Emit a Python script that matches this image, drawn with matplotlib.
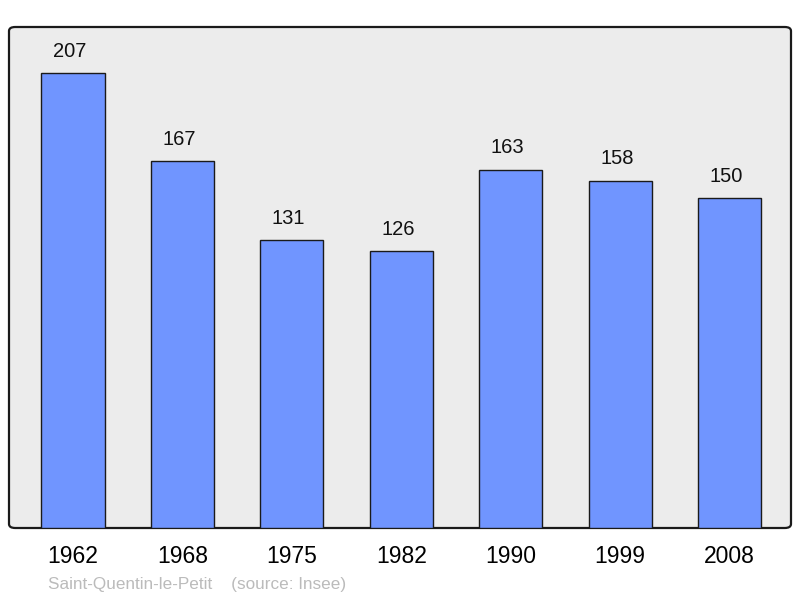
import matplotlib
matplotlib.use("Agg")
import matplotlib.pyplot as plt
from matplotlib.patches import FancyBboxPatch

years = ["1962", "1968", "1975", "1982", "1990", "1999", "2008"]
population = [207, 167, 131, 126, 163, 158, 150]
caption = "Saint-Quentin-le-Petit    (source: Insee)"

plt.rcParams['font.family'] = ['Liberation Sans', 'DejaVu Sans']

fig = plt.figure(figsize=(8.0, 5.98), dpi=100)
ax = fig.add_axes([9/800, 1 - 528/598, 782/800, 501/598])
ax.set_facecolor('none')
for s in ax.spines.values():
    s.set_visible(False)

frame = FancyBboxPatch((0, 0), 1, 1, boxstyle="round,pad=0,rounding_size=0.008",
                       transform=ax.transAxes, facecolor='#ececec',
                       edgecolor='#1a1a1a', linewidth=1.6, zorder=0, clip_on=False)
ax.add_patch(frame)

x = list(range(len(years)))
ax.bar(x, population, width=0.576, color='#7095ff', edgecolor='#1a1a1a',
       linewidth=1.0, zorder=2)
for xi, v in zip(x, population):
    ax.text(xi - 0.03, v + 10, str(v), ha='center', va='center', fontsize=14.5, color='#111111')

ax.set_xlim(-0.585, 6.562)
ax.set_ylim(0, 228)
ax.set_xticks(x)
ax.set_xticklabels(years, fontsize=16.5)
ax.tick_params(axis='x', length=0, pad=12)
ax.set_yticks([])

fig.text(48/800, 1 - 584/598, caption, fontsize=12.3, color='#bbbbbb', va='center', ha='left')

fig.savefig("out.png", dpi=100)
